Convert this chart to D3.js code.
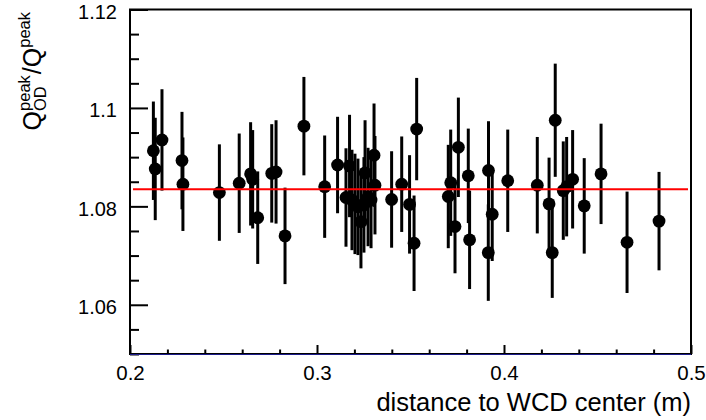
<!DOCTYPE html>
<html>
<head>
<meta charset="utf-8">
<script src="https://cdn.jsdelivr.net/npm/d3@7"></script>
<style>
  body { margin: 0; background: #fff; }
  svg { display: block; font-family: "Liberation Sans", Arial, Helvetica, sans-serif; }
</style>
</head>
<body>
<div id="chart"></div>
<script>
// distance to WCD center (m)
const distance = [0.2125, 0.2135, 0.2171, 0.2278, 0.2283, 0.2478, 0.2584, 0.2645, 0.2656, 0.2683,
                  0.2758, 0.2781, 0.2829, 0.2930, 0.3041, 0.3110, 0.3155, 0.3174, 0.3187, 0.3203,
                  0.3219, 0.3235, 0.3251, 0.3257, 0.3273, 0.3289, 0.3305, 0.3310, 0.3399, 0.3453,
                  0.3495, 0.3519, 0.3533, 0.3702, 0.3715, 0.3738, 0.3756, 0.3809, 0.3816, 0.3917,
                  0.3916, 0.3937, 0.4020, 0.4178, 0.4241, 0.4258, 0.4274, 0.4317, 0.4335, 0.4367,
                  0.4429, 0.4519, 0.4658, 0.4829];
// Q_OD peak / Q peak
const ratio = [1.0913, 1.0876, 1.0935, 1.0893, 1.0845, 1.0828, 1.0847, 1.0866, 1.0855, 1.0777,
               1.0867, 1.0870, 1.0740, 1.0963, 1.0840, 1.0884, 1.0818, 1.0882, 1.0813, 1.0805,
               1.0799, 1.0769, 1.0803, 1.0868, 1.0819, 1.0813, 1.0904, 1.0843, 1.0814, 1.0845,
               1.0804, 1.0725, 1.0957, 1.0820, 1.0848, 1.0759, 1.0920, 1.0862, 1.0732, 1.0873,
               1.0706, 1.0784, 1.0852, 1.0843, 1.0805, 1.0706, 1.0975, 1.0832, 1.0840, 1.0855,
               1.0801, 1.0866, 1.0727, 1.0770];
const ratioErr = [0.0100, 0.0104, 0.0103, 0.0099, 0.0095, 0.0098, 0.0101, 0.0105, 0.0100, 0.0094,
                  0.0100, 0.0105, 0.0098, 0.0100, 0.0104, 0.0098, 0.0100, 0.0104, 0.0102, 0.0102,
                  0.0098, 0.0095, 0.0097, 0.0107, 0.0100, 0.0098, 0.0105, 0.0100, 0.0098, 0.0097,
                  0.0100, 0.0097, 0.0104, 0.0105, 0.0108, 0.0095, 0.0101, 0.0096, 0.0100, 0.0100,
                  0.0098, 0.0095, 0.0104, 0.0098, 0.0094, 0.0092, 0.0115, 0.0100, 0.0101, 0.0100,
                  0.0097, 0.0102, 0.0103, 0.0100];

// constant fit
const fitLevel = 1.0835;
const fitRange = [0.2016, 0.4984];

const xTicks = [0.2, 0.3, 0.4, 0.5];
const xTickLabels = ["0.2", "0.3", "0.4", "0.5"];
const yTicks = [1.06, 1.08, 1.10, 1.12];
const yTickLabels = ["1.06", "1.08", "1.1", "1.12"];

const width = 706, height = 420;
const margin = {top: 9.5, right: 15, bottom: 66, left: 130};

const svg = d3.select("#chart").append("svg")
    .attr("width", width)
    .attr("height", height);

const xScale = d3.scaleLinear().domain([0.2, 0.5]).range([margin.left, width - margin.right]);
const yScale = d3.scaleLinear().domain([1.05, 1.12]).range([height - margin.bottom, margin.top]);

const x0 = xScale.range()[0], x1 = xScale.range()[1];
const yb = yScale.range()[0], yt = yScale.range()[1];

// minor ticks
const xMinor = d3.range(0, 16).map(i => 0.2 + i * 0.02).filter(v => !xTicks.some(t => Math.abs(t - v) < 1e-9));
const yMinor = d3.range(0, 15).map(i => 1.05 + i * 0.005).filter(v => !yTicks.some(t => Math.abs(t - v) < 1e-9));

svg.append("g")
    .attr("transform", `translate(0,${yb})`)
    .call(d3.axisBottom(xScale).tickValues(xMinor).tickSize(-4.5).tickFormat(""))
    .call(g => g.select(".domain").remove())
    .call(g => g.selectAll("line").attr("stroke-width", 2));

svg.append("g")
    .attr("transform", `translate(0,${yb})`)
    .call(d3.axisBottom(xScale).tickValues(xTicks).tickSize(-9).tickPadding(11)
        .tickFormat((d, i) => xTickLabels[i]))
    .call(g => g.select(".domain").remove())
    .call(g => g.selectAll("line").attr("stroke-width", 2))
    .call(g => g.selectAll("text").attr("font-size", 20.5).attr("fill", "#000")
        .attr("font-family", "Liberation Sans, Arial, sans-serif"));

svg.append("g")
    .attr("transform", `translate(${x0},0)`)
    .call(d3.axisLeft(yScale).tickValues(yMinor).tickSize(-9).tickFormat(""))
    .call(g => g.select(".domain").remove())
    .call(g => g.selectAll("line").attr("stroke-width", 2));

svg.append("g")
    .attr("transform", `translate(${x0},0)`)
    .call(d3.axisLeft(yScale).tickValues(yTicks).tickSize(-18).tickPadding(13)
        .tickFormat((d, i) => yTickLabels[i]))
    .call(g => g.select(".domain").remove())
    .call(g => g.selectAll("line").attr("stroke-width", 2))
    .call(g => g.selectAll("text").attr("font-size", 20).attr("dy", "0.44em").attr("fill", "#000")
        .attr("font-family", "Liberation Sans, Arial, sans-serif"));

// frame
svg.append("rect")
    .attr("x", x0).attr("y", yt)
    .attr("width", x1 - x0).attr("height", yb - yt)
    .attr("fill", "none")
    .attr("stroke", "#000")
    .attr("stroke-width", 2);

svg.append("line")
    .attr("x1", x0).attr("x2", x1)
    .attr("y1", yb + 0.5).attr("y2", yb + 0.5)
    .attr("stroke", "#1c1c8c")
    .attr("stroke-width", 1);

const pts = distance.map((d, i) => ({x: d, y: ratio[i], e: ratioErr[i]}));

// error bars
svg.append("g").selectAll("line")
    .data(pts)
    .join("line")
    .attr("x1", d => xScale(d.x))
    .attr("x2", d => xScale(d.x))
    .attr("y1", d => yScale(d.y - d.e))
    .attr("y2", d => yScale(d.y + d.e))
    .attr("stroke", "#000")
    .attr("stroke-width", 3);

// markers
svg.append("g").selectAll("circle")
    .data(pts)
    .join("circle")
    .attr("cx", d => xScale(d.x))
    .attr("cy", d => yScale(d.y))
    .attr("r", 6.4)
    .attr("fill", "#000");

// fit line
svg.append("line")
    .attr("x1", xScale(fitRange[0]))
    .attr("x2", xScale(fitRange[1]))
    .attr("y1", yScale(fitLevel))
    .attr("y2", yScale(fitLevel))
    .attr("stroke", "#ff0000")
    .attr("stroke-width", 2);

// x axis title
svg.append("text")
    .attr("x", x1)
    .attr("y", 411)
    .attr("text-anchor", "end")
    .attr("font-size", 25.5)
    .attr("fill", "#000")
    .text("distance to WCD center (m)");

// y axis title: Q_OD^peak / Q^peak, right aligned to the top of the frame
const big = 25, small = 16.5;
const ytitle = svg.append("g");
function addText(str, size, x, dy) {
    const t = ytitle.append("text")
        .attr("font-size", size)
        .attr("fill", "#000")
        .attr("x", x)
        .attr("y", dy)
        .text(str);
    return t.node().getComputedTextLength();
}
let cx = 0;
cx += addText("Q", big, cx, 0);
const wSup = addText("peak", small, cx, -11.5);
const wSub = addText("OD", small, cx, 5);
cx += Math.max(wSup, wSub) + 1;
cx += addText("/Q", big, cx, 0);
cx += addText("peak", small, cx, -11.5);
ytitle.attr("transform", `translate(41,${12 + cx}) rotate(-90)`);
</script>
</body>
</html>
